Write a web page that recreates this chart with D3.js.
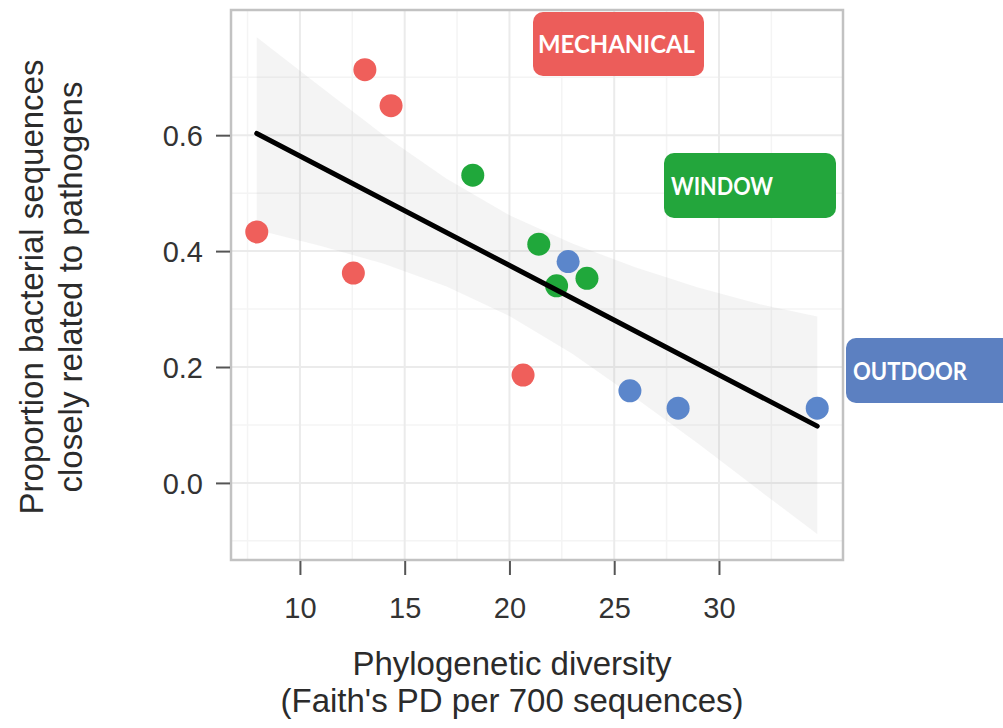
<!DOCTYPE html>
<html lang="en">
<head>
<meta charset="utf-8">
<title>Pathogen proportion vs phylogenetic diversity</title>
<style>
body { margin: 0; background: #fff; }
.tick-label { font-family: "Liberation Sans", Arial, sans-serif; font-size: 29px; fill: #333; }
.axis-title { font-family: "Liberation Sans", Arial, sans-serif; font-size: 33px; fill: #2b2b2b; }
.tag { font-family: Lato, "DejaVu Sans", sans-serif; font-weight: bold; font-size: 24px; fill: #fff; }
</style>
</head>
<body>
<script src="https://d3js.org/d3.v7.min.js"></script>
<script>

// points
var mechanicalX = [7.94, 13.1, 14.35, 12.55, 20.65],
    mechanicalY = [0.433, 0.713, 0.651, 0.362, 0.186];
var windowX = [18.25, 21.4, 22.25, 23.7],
    windowY = [0.531, 0.412, 0.340, 0.353];
var outdoorX = [22.8, 25.75, 28.05, 34.69],
    outdoorY = [0.382, 0.159, 0.129, 0.129];

// fitted line and its confidence band
var fitX = [7.94, 34.69],
    fitY = [0.603, 0.098];
var bandX  = [7.94, 11, 14, 17, 20, 23, 26, 29, 32, 34.69],
    bandLo = [0.437, 0.409, 0.378, 0.339, 0.288, 0.223, 0.147, 0.068, -0.015, -0.088],
    bandHi = [0.769, 0.683, 0.600, 0.525, 0.462, 0.413, 0.372, 0.337, 0.308, 0.287];

var xTicks = [10, 15, 20, 25, 30],
    yTicks = [0.0, 0.2, 0.4, 0.6];
var xMinor = [7.5, 12.5, 17.5, 22.5, 27.5, 32.5],
    yMinor = [-0.1, 0.1, 0.3, 0.5, 0.7];

var groups = [
  { name: "MECHANICAL", xs: mechanicalX, ys: mechanicalY, color: "#ef5f5b" },
  { name: "WINDOW",     xs: windowX,     ys: windowY,     color: "#20a83b" },
  { name: "OUTDOOR",    xs: outdoorX,    ys: outdoorY,    color: "#5b86cb" }
];

var W = 1003, H = 728;
var pLeft = 231, pRight = 843, pTop = 10, pBottom = 560;

var x = d3.scaleLinear().domain([6.71, 35.92]).range([pLeft, pRight]);
var y = d3.scaleLinear().domain([-0.133, 0.816]).range([pBottom, pTop]);

var svg = d3.select("body").append("svg")
    .attr("width", W)
    .attr("height", H);

// grid
svg.append("g").selectAll("line").data(xMinor).join("line")
    .attr("x1", d => x(d)).attr("x2", d => x(d))
    .attr("y1", pTop).attr("y2", pBottom)
    .attr("stroke", "#f4f4f4").attr("stroke-width", 1.5);
svg.append("g").selectAll("line").data(yMinor).join("line")
    .attr("x1", pLeft).attr("x2", pRight)
    .attr("y1", d => y(d)).attr("y2", d => y(d))
    .attr("stroke", "#f4f4f4").attr("stroke-width", 1.5);
svg.append("g").selectAll("line").data(xTicks).join("line")
    .attr("x1", d => x(d)).attr("x2", d => x(d))
    .attr("y1", pTop).attr("y2", pBottom)
    .attr("stroke", "#ebebeb").attr("stroke-width", 2);
svg.append("g").selectAll("line").data(yTicks).join("line")
    .attr("x1", pLeft).attr("x2", pRight)
    .attr("y1", d => y(d)).attr("y2", d => y(d))
    .attr("stroke", "#ebebeb").attr("stroke-width", 2);

// confidence band
var band = d3.area()
    .x((d, i) => x(bandX[i]))
    .y0((d, i) => y(bandLo[i]))
    .y1((d, i) => y(bandHi[i]));
svg.append("path")
    .attr("d", band(bandX))
    .attr("fill", "#999")
    .attr("fill-opacity", 0.11);

// points
groups.forEach(function(g) {
  svg.append("g").selectAll("circle").data(g.xs).join("circle")
      .attr("cx", d => x(d))
      .attr("cy", (d, i) => y(g.ys[i]))
      .attr("r", 11.5)
      .attr("fill", g.color);
});

// regression line
var line = d3.line()
    .x((d, i) => x(fitX[i]))
    .y((d, i) => y(fitY[i]));
svg.append("path")
    .attr("d", line(fitX))
    .attr("fill", "none")
    .attr("stroke", "#000")
    .attr("stroke-width", 5)
    .attr("stroke-linecap", "round");

// panel border
svg.append("rect")
    .attr("x", pLeft).attr("y", pTop)
    .attr("width", pRight - pLeft).attr("height", pBottom - pTop)
    .attr("fill", "none")
    .attr("stroke", "#c2c2c2")
    .attr("stroke-width", 2.5);

// axes
var xAxis = svg.append("g")
    .attr("transform", "translate(0," + (pBottom + 1) + ")")
    .call(d3.axisBottom(x).tickValues(xTicks).tickSize(14).tickPadding(8).tickFormat(d3.format("d")));
var yAxis = svg.append("g")
    .attr("transform", "translate(" + (pLeft - 1) + ",0)")
    .call(d3.axisLeft(y).tickValues(yTicks).tickSize(14).tickPadding(13).tickFormat(d3.format(".1f")));

[xAxis, yAxis].forEach(function(a) {
  a.select(".domain").remove();
  a.selectAll(".tick line").attr("stroke", "#555").attr("stroke-width", 2);
  a.selectAll(".tick text").attr("class", "tick-label").attr("fill", null);
});
xAxis.selectAll(".tick text").attr("y", 57).attr("dy", 0);
yAxis.selectAll(".tick text").attr("dy", "0.36em");

// axis titles
var xt = svg.append("text").attr("class", "axis-title").attr("text-anchor", "middle");
xt.append("tspan").attr("x", 512).attr("y", 675).text("Phylogenetic diversity");
xt.append("tspan").attr("x", 512).attr("y", 712).text("(Faith's PD per 700 sequences)");

var yt = svg.append("text").attr("class", "axis-title")
    .attr("text-anchor", "middle")
    .attr("transform", "translate(0,287) rotate(-90)");
yt.append("tspan").attr("x", 0).attr("y", 43).text("Proportion bacterial sequences");
yt.append("tspan").attr("x", 0).attr("y", 82).text("closely related to pathogens");

// group tags
var tags = [
  { name: "MECHANICAL", x0: 533, y0: 12,  w: 171, h: 64, tx: 538, ty: 53,  tw: 157, color: "#ec5d5a" },
  { name: "WINDOW",     x0: 664, y0: 153, w: 172, h: 65, tx: 671, ty: 195, tw: 102, color: "#23a63c" },
  { name: "OUTDOOR",    x0: 846, y0: 338, w: 170, h: 65, tx: 853, ty: 380, tw: 114, color: "#5c80c1" }
];
tags.forEach(function(t) {
  svg.append("rect")
      .attr("x", t.x0).attr("y", t.y0)
      .attr("width", t.w).attr("height", t.h)
      .attr("rx", 10)
      .attr("fill", t.color);
  svg.append("text")
      .attr("class", "tag")
      .attr("x", t.tx).attr("y", t.ty)
      .attr("textLength", t.tw)
      .attr("lengthAdjust", "spacingAndGlyphs")
      .text(t.name);
});

</script>
</body>
</html>
